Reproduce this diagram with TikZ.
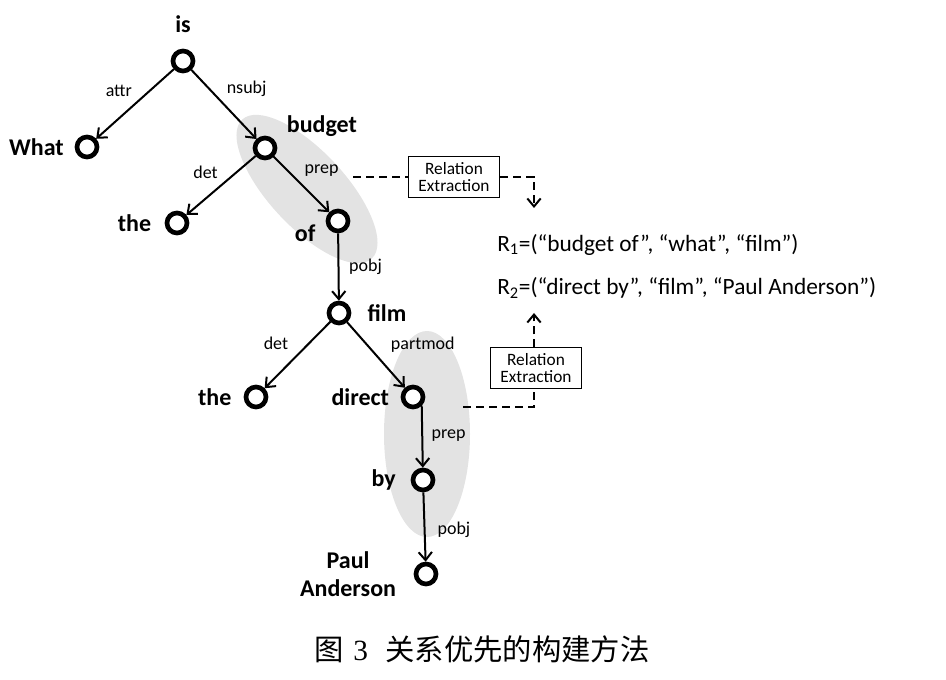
\documentclass[tikz,border=0pt]{standalone}
\usepackage{fontspec}
\setmainfont{Carlito}
\newfontfamily\cjk{Noto Sans CJK SC}
\newfontfamily\tms{Liberation Serif}
\usepackage{tikz}
\usetikzlibrary{arrows.meta,positioning}
\definecolor{ellgray}{RGB}{227,227,227}

\begin{document}
\begin{tikzpicture}[x=0.75pt,y=-0.75pt,>={Straight Barb[length=6pt,width=10pt]},
                word/.style={circle,draw,fill=white,line width=3.5pt,minimum size=15pt,inner sep=0pt},
                wlabel/.style={inner sep=0pt,align=center,font=\bfseries\fontsize{18}{21}\selectfont},
                dep/.style={inner sep=3.3pt,font=\fontsize{13.5}{15}\selectfont},
                tree/.style={->,line width=1.5pt},
                extr/.style={line width=1.5pt,dash pattern=on 6pt off 3.75pt},
                relbox/.style={draw,line width=0.8pt,fill=white,align=center,inner xsep=7.5pt,inner ysep=4pt,font=\fontsize{13}{13}\selectfont},
                rtext/.style={inner sep=0pt,anchor=west,font=\fontsize{17.5}{20}\selectfont}]
                \useasboundingbox (0,0) rectangle (946,680);

                % Shaded groups
                \fill[ellgray,rotate around={-47:(307,189)}] (307,189) ellipse (95 and 38);
                \fill[ellgray] (427,434) ellipse (43 and 103);

                % Define the words as nodes
                \node[word] (is)     at (183,61)  {};
                \node[word] (what)   at (87,147)  {};
                \node[word] (budget) at (265,148) {};
                \node[word] (the1)   at (177,223) {};
                \node[word] (ofn)    at (338,221) {};
                \node[word] (film)   at (339,313) {};
                \node[word] (the2)   at (256,397) {};
                \node[word] (direct) at (413,397) {};
                \node[word] (by)     at (423,480) {};
                \node[word] (paul)   at (426,574) {};

                \node[wlabel, above=12pt of is]                   (t-is)     {is};
                \node[wlabel, left=8pt of what]                   (t-what)   {What};
                \node[wlabel, above right=8pt and 7pt of budget.east] (t-budget) {budget};
                \node[wlabel, left=10pt of the1]                  (t-the1)   {the};
                \node[wlabel, below left=3pt and 7.5pt of ofn.west] (t-of)   {of};
                \node[wlabel, right=12pt of film]                 (t-film)   {film};
                \node[wlabel, left=9pt of the2]                   (t-the2)   {the};
                \node[wlabel, left=8.5pt of direct]               (t-direct) {direct};
                \node[wlabel, left=11pt of by]                    (t-by)     {by};
                \node[wlabel, left=13pt of paul]                  (t-paul)   {Paul\\Anderson};

                % Connect the words with arrows
                \path (is) edge[tree] node[dep, above left, pos=0.47] {attr} (what);
                \path (is) edge[tree] node[dep, above right, pos=0.46] {nsubj} (budget);

                \path (budget) edge[tree] node[dep, above left, pos=0.47] {det} (the1);
                \path (budget) edge[tree] node[dep, above right, pos=0.46] {prep} (ofn);

                \path (ofn) edge[tree] node[dep, right, pos=0.5, xshift=4pt] {pobj} (film);

                \path (film) edge[tree] node[dep, above left, pos=0.5, xshift=-3pt] {det} (the2);
                \path (film) edge[tree] node[dep, above right, pos=0.55, xshift=5pt] {partmod} (direct);

                \path (direct.south east) edge[tree] node[dep, right, pos=0.48, xshift=3pt] {prep} (by);
                \path (by) edge[tree] node[dep, right, pos=0.54, xshift=5.7pt] {pobj} (paul);

                % Relation extraction
                \coordinate (s1) at (353,177);
                \node[relbox] (rel1) at (454,177) {Relation\\Extraction};
                \coordinate (c1) at (534,177);
                \coordinate (e1) at (534,208);
                \draw[extr] (s1) -- (rel1);
                \draw[extr,->] (rel1) -- (c1) -- (e1);

                \coordinate (s2) at (463,407);
                \coordinate (c2) at (534,407);
                \node[relbox] (rel2) at (536,368) {Relation\\Extraction};
                \coordinate (e2) at (534,313);
                \draw[extr] (s2) -- (c2) -- (rel2.south -| c2);
                \draw[extr,->] (rel2.north -| c2) -- (e2);

                \node[rtext] (r1) at (497,245) {R\textsubscript{1}=(“budget of”, “what”, “film”)};
                \node[rtext] (r2) at (497,288) {R\textsubscript{2}=(“direct by”, “film”, “Paul Anderson”)};

                % Caption
                \node (cap) at (482,649) {\fontsize{22}{26}\selectfont\cjk 图\hspace{7pt}{\tms 3}\hspace{13pt}关系优先的构建方法};

            \end{tikzpicture}
\end{document}
